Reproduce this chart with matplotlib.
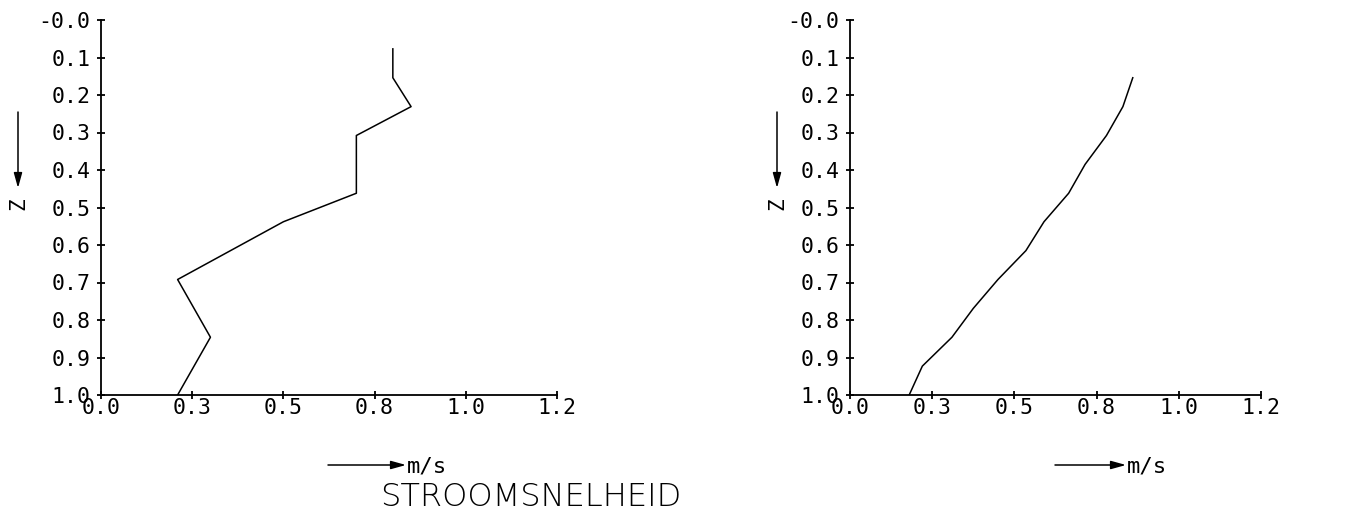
import matplotlib
matplotlib.use("Agg")
import matplotlib.pyplot as plt

# ---- data ----
depth_left = [0.077, 0.154, 0.231, 0.308, 0.462, 0.538, 0.692, 0.846, 1.0]
speed_left = [0.80, 0.80, 0.85, 0.70, 0.70, 0.50, 0.21, 0.30, 0.21]

depth_right = [0.154, 0.231, 0.308, 0.385, 0.462, 0.538, 0.615, 0.692,
               0.769, 0.846, 0.923, 1.0]
speed_right = [0.86, 0.83, 0.78, 0.715, 0.665, 0.59, 0.535, 0.45,
               0.375, 0.31, 0.22, 0.18]

x_ticks = [0.0, 0.25, 0.5, 0.75, 1.0, 1.25]
x_ticklabels = ["0.0", "0.3", "0.5", "0.8", "1.0", "1.2"]
y_ticks = [0.0, 0.1, 0.2, 0.3, 0.4, 0.5, 0.6, 0.7, 0.8, 0.9, 1.0]
y_ticklabels = ["-0.0", "0.1", "0.2", "0.3", "0.4", "0.5", "0.6", "0.7",
                "0.8", "0.9", "1.0"]
axis_label = "Z"
unit_label = "m/s"
title = "STROOMSNELHEID"

W, H = 1354, 517
fig = plt.figure(figsize=(W / 100, H / 100), dpi=100)

mono = "DejaVu Sans Mono"
tick_fs = 15.5


def fx(px):
    return px / W


def fy(py):
    return 1 - py / H


def make_axes(left_px, right_px, speeds, depths, zarrow_x, unit_x0, unit_x1):
    ax = fig.add_axes([fx(left_px), fy(395), fx(right_px - left_px), (395 - 20) / H])
    ax.plot(speeds, depths, color="black", lw=1.1)
    ax.set_xlim(0, 1.25)
    ax.set_ylim(1.0, 0.0)
    for s in ("top", "right"):
        ax.spines[s].set_visible(False)
    for s in ("left", "bottom"):
        ax.spines[s].set_linewidth(1.3)
    ax.set_xticks(x_ticks)
    ax.set_xticklabels(x_ticklabels, fontfamily=mono, fontsize=tick_fs)
    ax.set_yticks(y_ticks)
    ax.set_yticklabels(y_ticklabels, fontfamily=mono, fontsize=tick_fs)
    ax.tick_params(axis="both", direction="inout", length=6, width=1.3)
    ax.tick_params(axis="x", pad=-1.2)
    ax.tick_params(axis="y", pad=4.5)
    # Z arrow
    fig.add_artist(matplotlib.patches.FancyArrowPatch(
        (fx(zarrow_x), fy(112)), (fx(zarrow_x), fy(188)),
        transform=fig.transFigure, arrowstyle="-|>,head_length=9,head_width=2.5",
        color="black", lw=1.1, shrinkA=0, shrinkB=0, mutation_scale=1))
    fig.text(fx(zarrow_x), fy(204), axis_label, rotation=90, ha="center",
             va="center", fontfamily=mono, fontsize=15)
    # unit arrow
    fig.add_artist(matplotlib.patches.FancyArrowPatch(
        (fx(unit_x0), fy(465)), (fx(unit_x1), fy(465)),
        transform=fig.transFigure, arrowstyle="-|>,head_length=9,head_width=2.5",
        color="black", lw=1.1, shrinkA=0, shrinkB=0, mutation_scale=1))
    fig.text(fx(unit_x1 + 1), fy(466), unit_label, ha="left", va="center",
             fontfamily=mono, fontsize=16)
    return ax


make_axes(101, 557, speed_left, depth_left, 18, 328, 406)
make_axes(850, 1261, speed_right, depth_right, 777, 1055, 1126)

fig.text(fx(531), fy(497), title, ha="center", va="center",
         fontfamily="DejaVu Sans", fontsize=23, fontweight="light")

fig.savefig("out.png", dpi=100, facecolor="white")
